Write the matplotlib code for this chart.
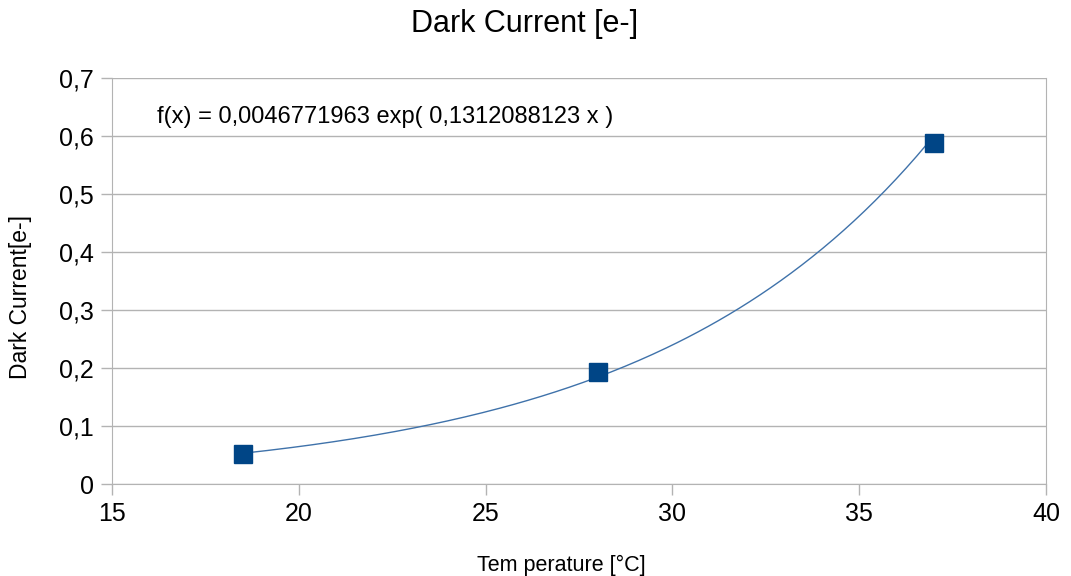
import numpy as np
import matplotlib.pyplot as plt
from matplotlib.ticker import FuncFormatter

plt.rcParams['font.family'] = ['Liberation Sans', 'DejaVu Sans']

# data
temperature = [18.5, 28, 37]
dark_current = [0.052, 0.193, 0.587]

# trend line coefficients, as printed on the chart
coef_a = 0.0046771963
coef_b = 0.1312088123

fig = plt.figure(figsize=(10.71, 5.76), dpi=100)
ax = fig.add_axes([0.1046, 0.1597, 0.872, 0.705])

xs = np.linspace(min(temperature), max(temperature), 200)
ax.plot(xs, coef_a * np.exp(coef_b * xs), color='#3f72aa', linewidth=1, zorder=2)
ax.plot(temperature, dark_current, linestyle='none', marker='s', markersize=13,
        color='#004586', zorder=3)

ax.set_xlim(15, 40)
ax.set_ylim(0, 0.7)
ax.set_xticks(range(15, 41, 5))
ax.set_yticks(np.arange(0, 0.71, 0.1))
ax.yaxis.set_major_formatter(FuncFormatter(lambda v, p: f'{v:.1f}'.replace('.', ',') if v > 0 else '0'))

ax.grid(axis='y', color='#b3b3b3', linewidth=1)
ax.set_axisbelow(True)
ax.spines['top'].set_visible(False)
for s in ['left', 'right', 'bottom']:
    ax.spines[s].set_color('#b3b3b3')
ax.tick_params(colors='#b3b3b3', labelcolor='black', labelsize=18, length=8, width=1, pad=5)

ax.set_xlabel('Tem perature [°C]', fontsize=15.5)
ax.xaxis.set_label_coords(0.481, -0.175)
ax.set_ylabel('Dark Current[e-]', fontsize=16.5)
ax.yaxis.set_label_coords(-0.086, 0.46)
fig.suptitle('Dark Current [e-]', fontsize=22, x=0.49, y=0.985)

ax.text(0.048, 0.905, 'f(x) = 0,0046771963 exp( 0,1312088123 x )', transform=ax.transAxes,
        fontsize=17, va='center')

fig.savefig('out.png', dpi=100)
